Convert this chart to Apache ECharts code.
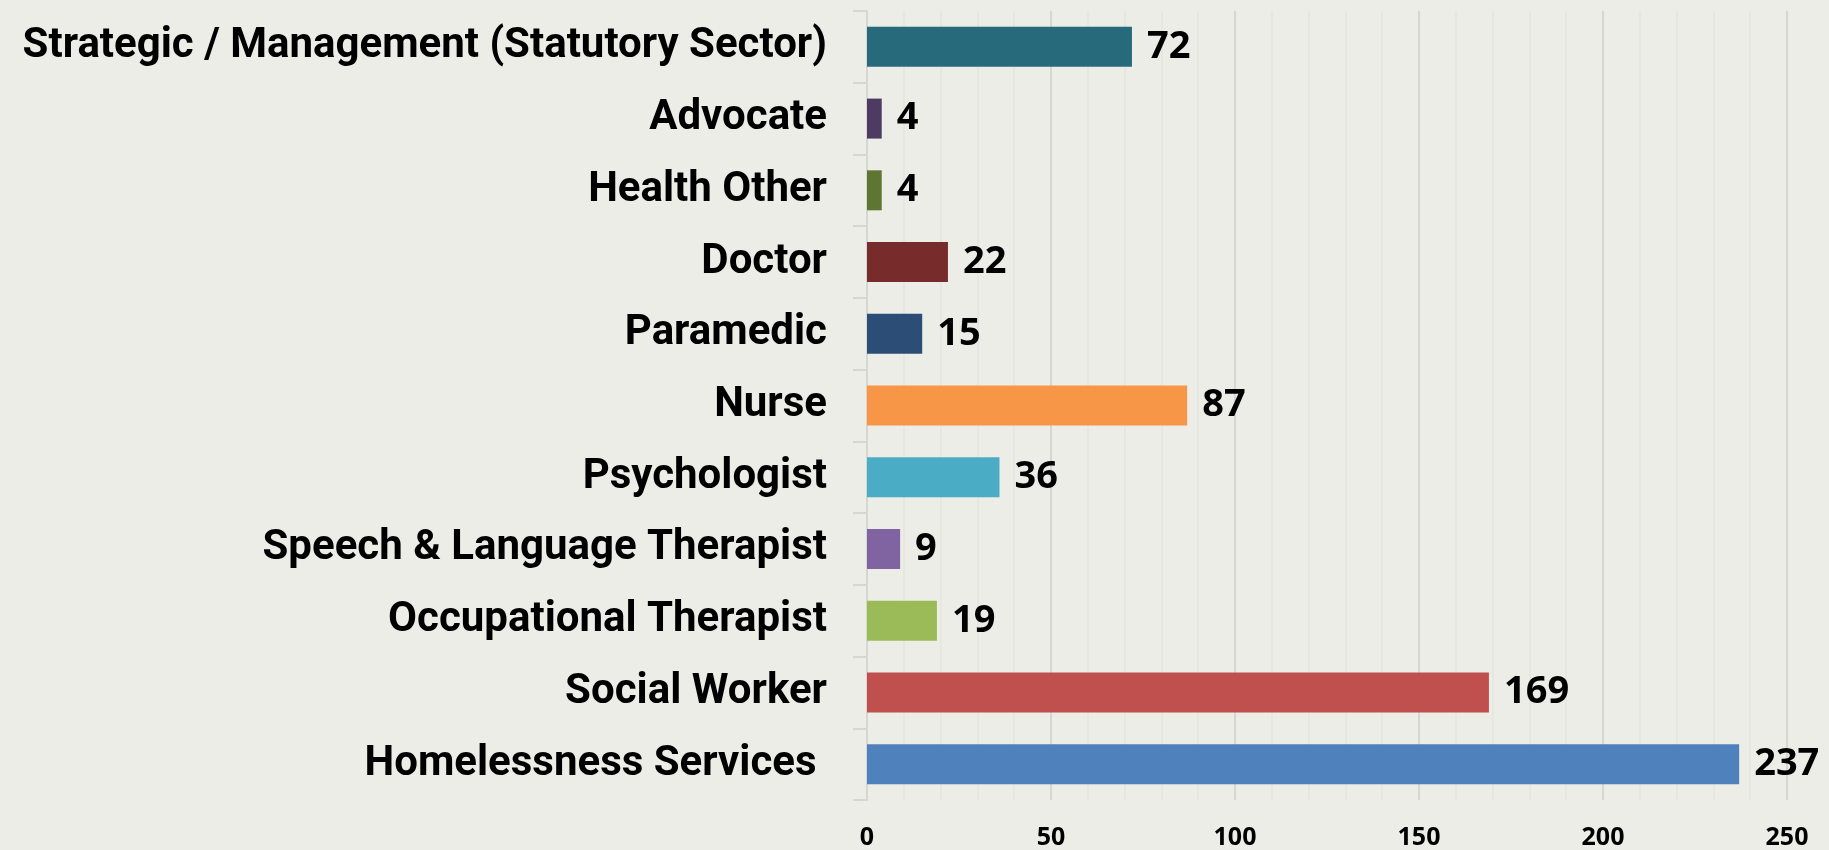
<!DOCTYPE html>
<html>
<head>
<meta charset="utf-8">
<script src="https://cdn.jsdelivr.net/npm/echarts@6/dist/echarts.min.js"></script>
<style>
  html, body { margin: 0; padding: 0; background: #edede7; }
  #chart { width: 1829px; height: 850px; }
</style>
</head>
<body>
<div id="chart"></div>
<script>
// categories top to bottom
var roles = [
  "Strategic / Management (Statutory Sector)",
  "Advocate",
  "Health Other",
  "Doctor",
  "Paramedic",
  "Nurse",
  "Psychologist",
  "Speech & Language Therapist",
  "Occupational Therapist",
  "Social Worker",
  "Homelessness Services "
];
var counts = [72, 4, 4, 22, 15, 87, 36, 9, 19, 169, 237];
var barColors = [
  "#276a7b", "#4e3b62", "#5f7532", "#772b2a", "#2c4d75", "#f79646",
  "#4bacc6", "#8064a2", "#9bbb59", "#c0504d", "#4f81bd"
];

var myChart = echarts.init(document.getElementById("chart"));

var seriesData = counts.map(function (v, i) {
  return { value: v, itemStyle: { color: barColors[i] } };
});

var option = {
  backgroundColor: "#edede7",
  animation: false,
  grid: { left: 867, right: 42, top: 11, bottom: 50 },
  xAxis: {
    type: "value",
    min: 0,
    max: 250,
    interval: 50,
    axisLine: { show: false },
    axisTick: { show: false },
    axisLabel: {
      margin: 25,
      fontFamily: "Open Sans",
      fontWeight: "bold",
      fontSize: 25,
      color: "#000"
    },
    splitLine: { show: true, lineStyle: { color: "#d6d6d2", width: 2 } },
    minorTick: { show: false, splitNumber: 5 },
    minorSplitLine: { show: true, lineStyle: { color: "#e5e5df", width: 1.5 } }
  },
  yAxis: {
    type: "category",
    data: roles,
    inverse: true,
    axisLine: { show: true, lineStyle: { color: "#d6d6d2", width: 2 } },
    axisTick: { show: true, length: 14, lineStyle: { color: "#d6d6d2", width: 2 } },
    axisLabel: {
      margin: 40,
      fontFamily: "Roboto",
      fontWeight: "bold",
      fontSize: 42,
      color: "#000"
    }
  },
  series: [
    {
      type: "bar",
      data: seriesData,
      barWidth: 40,
      label: {
        show: true,
        position: "right",
        distance: 15,
        fontFamily: "Open Sans",
        fontWeight: "bold",
        fontSize: 38,
        color: "#000"
      }
    }
  ]
};

myChart.setOption(option);
</script>
</body>
</html>
